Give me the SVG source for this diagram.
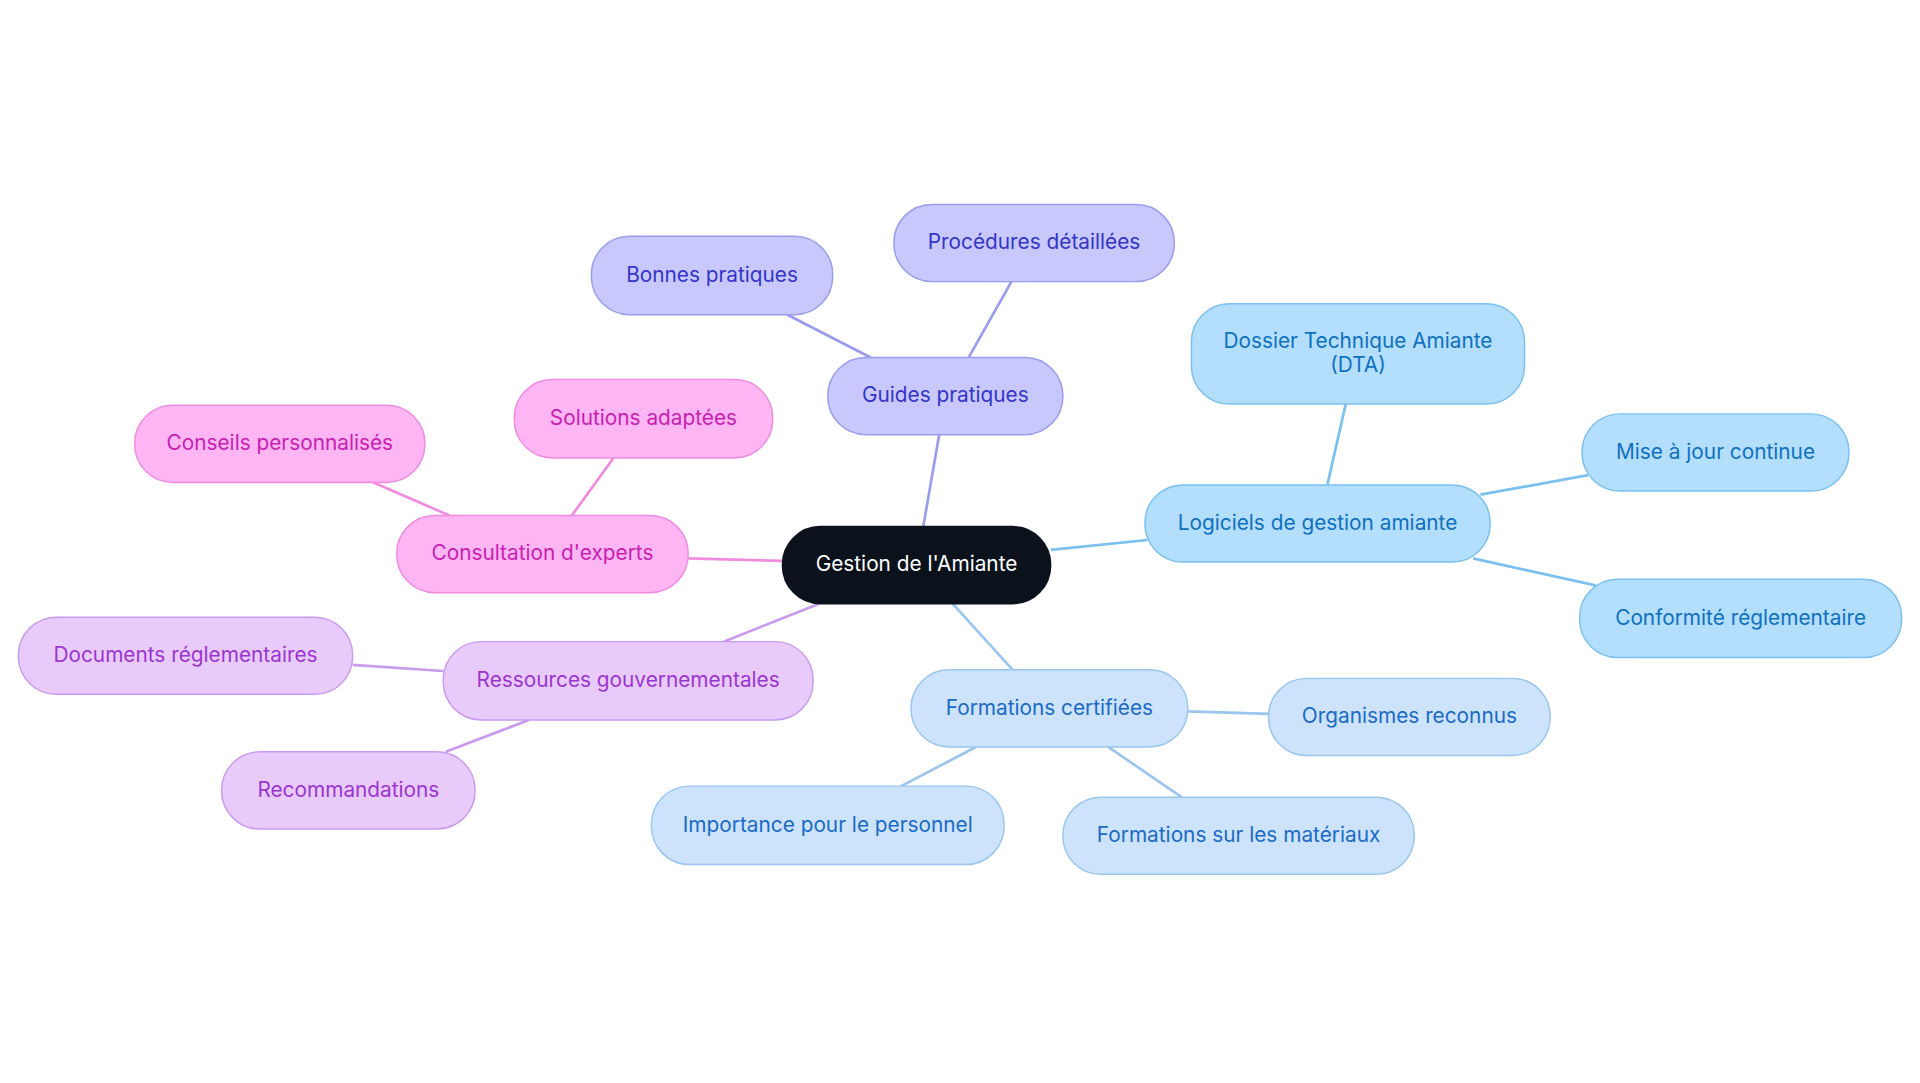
<svg xmlns="http://www.w3.org/2000/svg" width="1920" height="1083" viewBox="0 0 1920 1083">
<style>
text{font-family:Inter,"Noto Sans",sans-serif;font-size:17px;text-anchor:middle;dominant-baseline:central}
rect{stroke-width:1.2}
.c rect{fill:#0b121c;stroke:#0b121c}.c text{fill:#fff}
.v rect{fill:#c8c8fc;stroke:#9b9bef}.v text{fill:#3434c8}
.b rect{fill:#b3defc;stroke:#7ac0f0}.b text{fill:#1070c0}
.l rect{fill:#cde3fb;stroke:#9ac5ef}.l text{fill:#1a6ac6}
.p rect{fill:#e8cbfb;stroke:#c99bef}.p text{fill:#9b35d0}
.m rect{fill:#fdb5f4;stroke:#f08ce0}.m text{fill:#c81fb0}
#edges line{stroke-width:2.2;fill:none}
</style>
<rect width="1920" height="1083" fill="#fff"/>
<g transform="scale(1.2245)">
<g id="edges">
<line x1="754" y1="430" x2="767" y2="355" stroke="#9b9bef"/>
<line x1="711" y1="292" x2="643" y2="257" stroke="#9b9bef"/>
<line x1="791" y1="292" x2="826" y2="230" stroke="#9b9bef"/>
<line x1="858" y1="449" x2="937" y2="441" stroke="#7ac0f0"/>
<line x1="1084" y1="396" x2="1099" y2="330" stroke="#7ac0f0"/>
<line x1="1209" y1="404" x2="1297" y2="388" stroke="#7ac0f0"/>
<line x1="1203" y1="456" x2="1303" y2="478" stroke="#7ac0f0"/>
<line x1="778" y1="493" x2="827" y2="547" stroke="#9ac5ef"/>
<line x1="970" y1="581" x2="1036" y2="583" stroke="#9ac5ef"/>
<line x1="905" y1="610" x2="965" y2="651" stroke="#9ac5ef"/>
<line x1="797" y1="610" x2="736" y2="642" stroke="#9ac5ef"/>
<line x1="669" y1="493" x2="591" y2="524" stroke="#c99bef"/>
<line x1="362" y1="548" x2="288" y2="543" stroke="#c99bef"/>
<line x1="432" y1="588" x2="364" y2="614" stroke="#c99bef"/>
<line x1="639" y1="458" x2="562" y2="456" stroke="#f08ce0"/>
<line x1="367" y1="421" x2="305" y2="394" stroke="#f08ce0"/>
<line x1="467" y1="421" x2="501" y2="374" stroke="#f08ce0"/>
</g>
<g id="center" class="c"><rect x="639" y="430" width="219" height="63" rx="31"/><text x="748.5" y="460.5">Gestion de l'Amiante</text></g>
<g id="guides" class="v"><rect x="676" y="292" width="192" height="63" rx="31"/><text x="772" y="322.5">Guides pratiques</text></g>
<g id="bonnes" class="v"><rect x="483" y="193" width="197" height="64" rx="31"/><text x="581.5" y="224">Bonnes pratiques</text></g>
<g id="procedures" class="v"><rect x="730" y="167" width="229" height="63" rx="31"/><text x="844.5" y="197.5">Procédures détaillées</text></g>
<g id="logiciels" class="b"><rect x="935" y="396" width="282" height="63" rx="31"/><text x="1076" y="426.5">Logiciels de gestion amiante</text></g>
<g id="dta" class="b"><rect x="973" y="248" width="272" height="82" rx="31"/><text x="1109" y="278">Dossier Technique Amiante</text><text x="1109" y="298">(DTA)</text></g>
<g id="mise" class="b"><rect x="1292" y="338" width="218" height="63" rx="31"/><text x="1401" y="368.5">Mise à jour continue</text></g>
<g id="conformite" class="b"><rect x="1290" y="473" width="263" height="64" rx="31"/><text x="1421.5" y="504">Conformité réglementaire</text></g>
<g id="formations" class="l"><rect x="744" y="547" width="226" height="63" rx="31"/><text x="857" y="577.5">Formations certifiées</text></g>
<g id="organismes" class="l"><rect x="1036" y="554" width="230" height="63" rx="31"/><text x="1151" y="584.5">Organismes reconnus</text></g>
<g id="materiaux" class="l"><rect x="868" y="651" width="287" height="63" rx="31"/><text x="1011.5" y="681.5">Formations sur les matériaux</text></g>
<g id="importance" class="l"><rect x="532" y="642" width="288" height="64" rx="31"/><text x="676" y="673">Importance pour le personnel</text></g>
<g id="ressources" class="p"><rect x="362" y="524" width="302" height="64" rx="31"/><text x="513" y="555">Ressources gouvernementales</text></g>
<g id="documents" class="p"><rect x="15" y="504" width="273" height="63" rx="31"/><text x="151.5" y="534.5">Documents réglementaires</text></g>
<g id="recommandations" class="p"><rect x="181" y="614" width="207" height="63" rx="31"/><text x="284.5" y="644.5">Recommandations</text></g>
<g id="consultation" class="m"><rect x="324" y="421" width="238" height="63" rx="31"/><text x="443" y="451.5">Consultation d'experts</text></g>
<g id="conseils" class="m"><rect x="110" y="331" width="237" height="63" rx="31"/><text x="228.5" y="361.5">Conseils personnalisés</text></g>
<g id="solutions" class="m"><rect x="420" y="310" width="211" height="64" rx="31"/><text x="525.5" y="341">Solutions adaptées</text></g>
</g>
</svg>
